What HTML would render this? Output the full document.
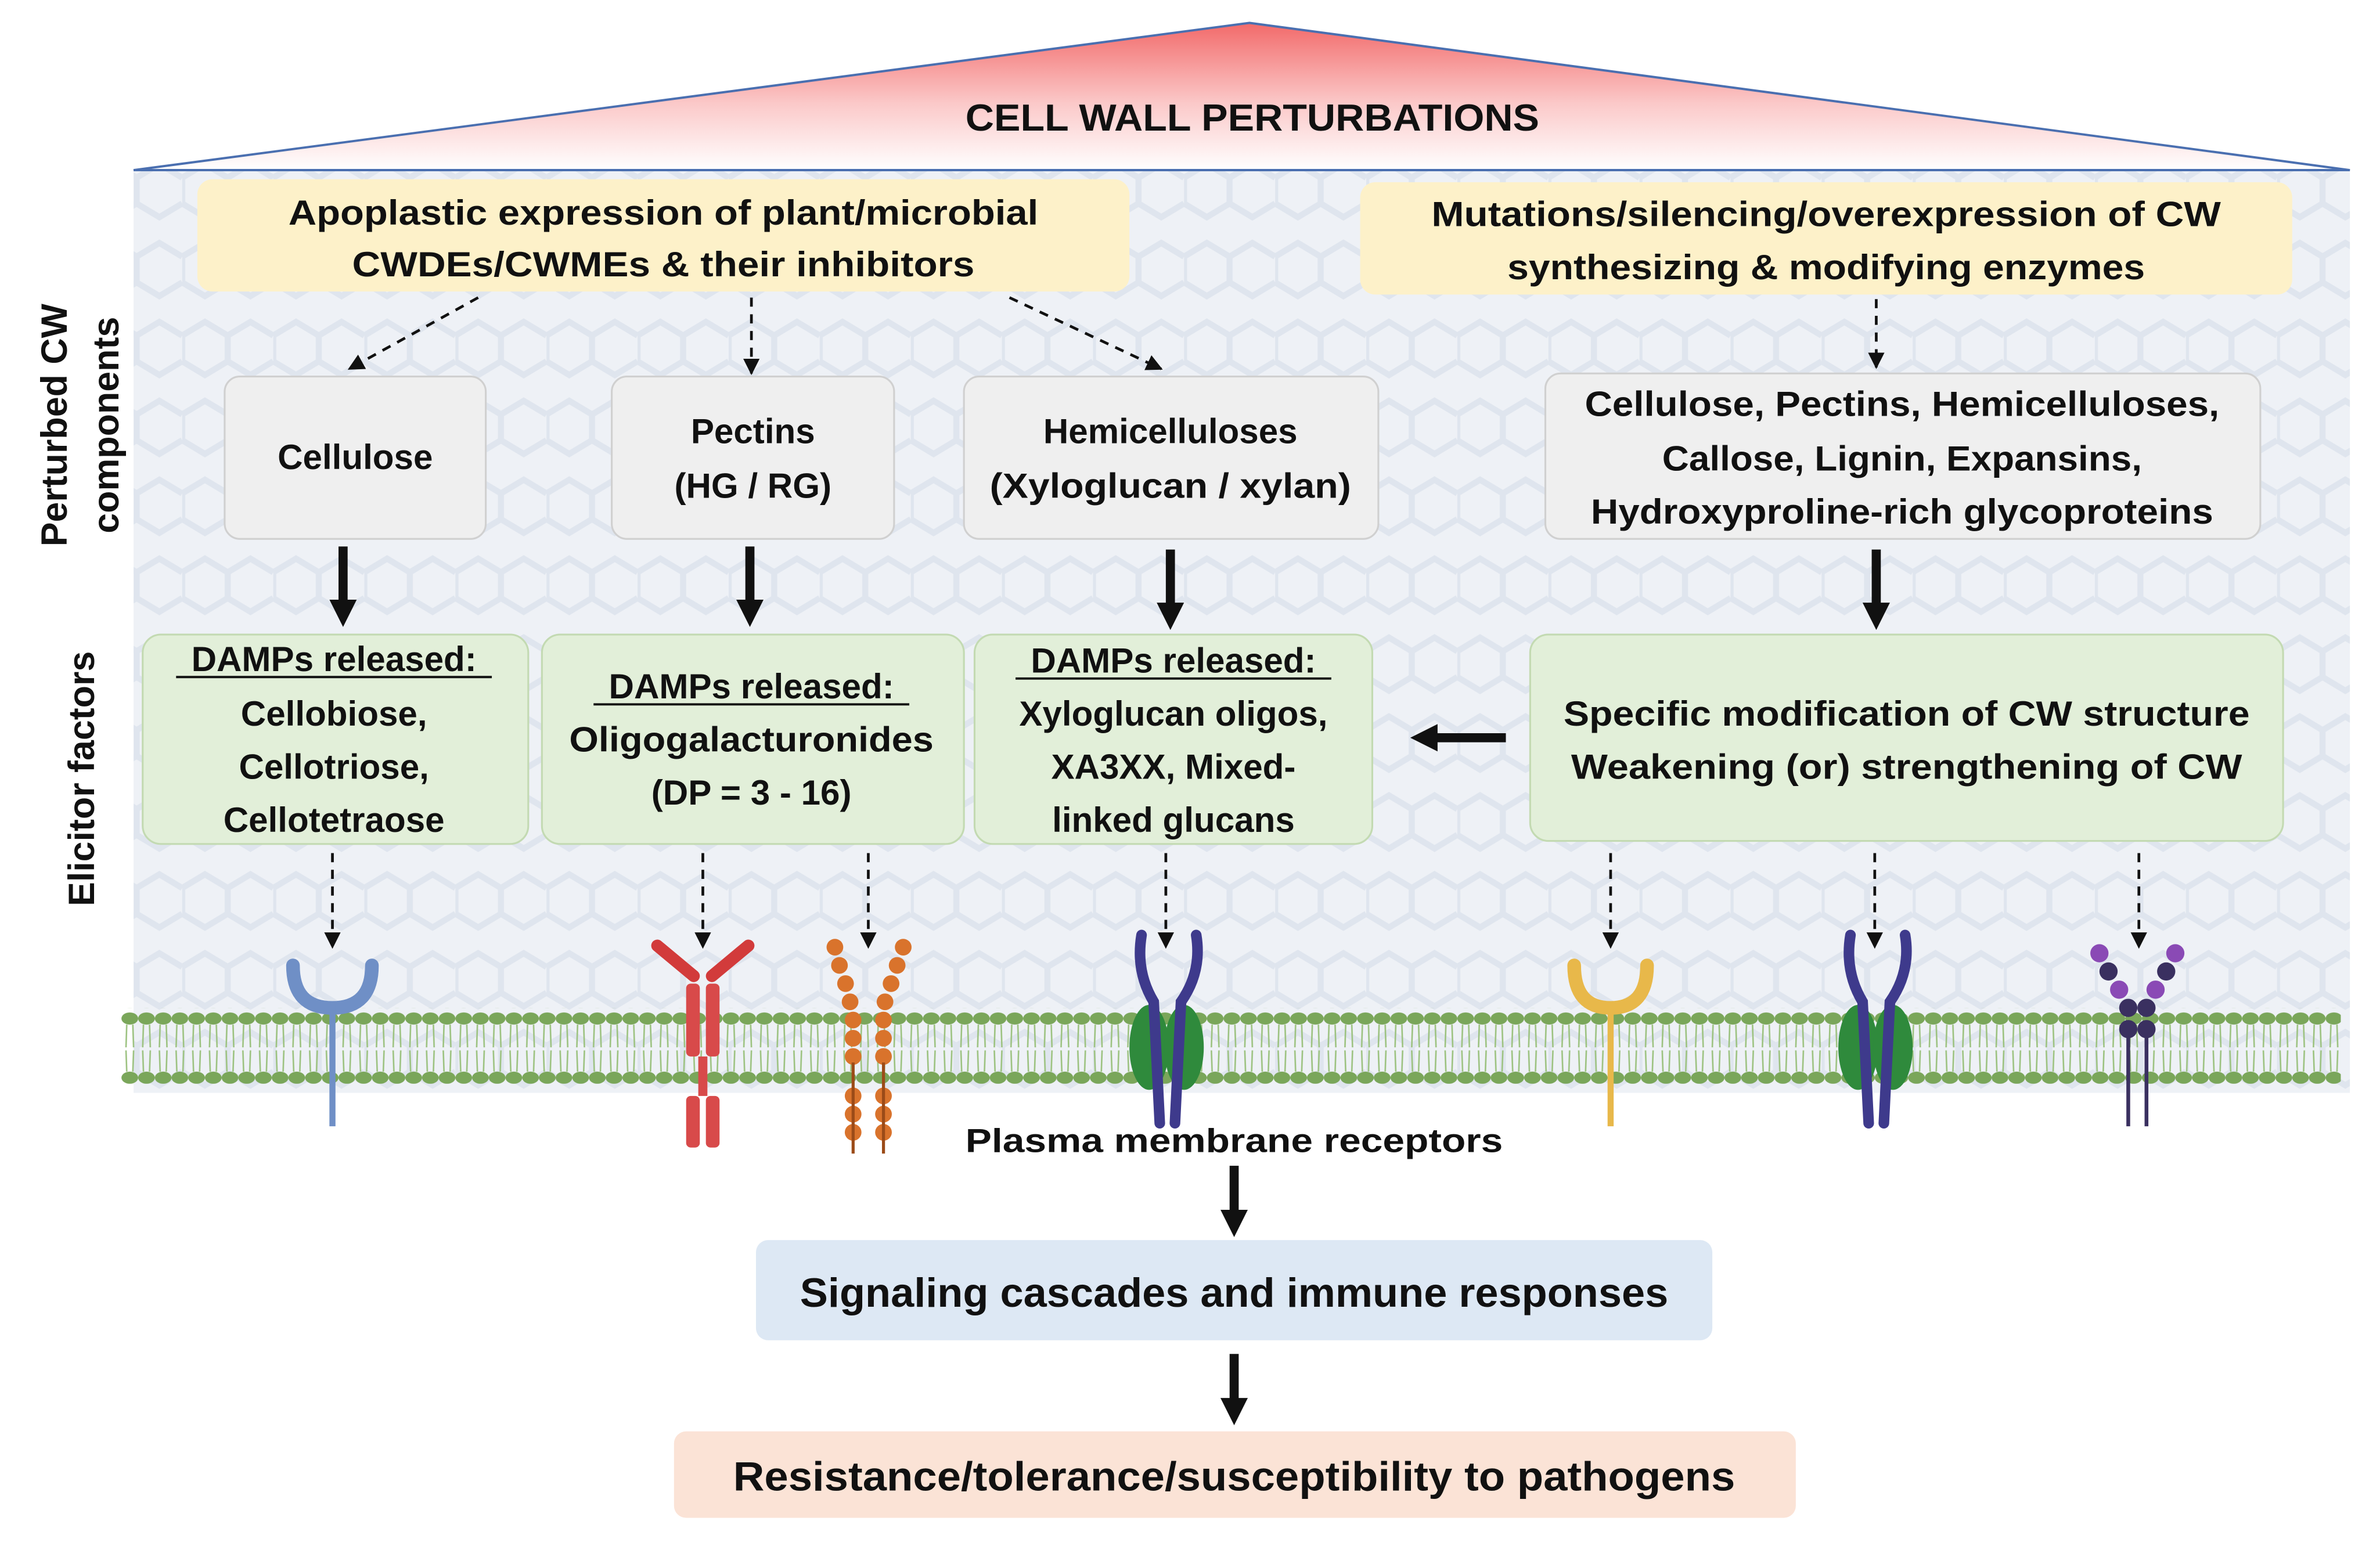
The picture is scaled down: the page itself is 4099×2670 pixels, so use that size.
<!DOCTYPE html>
<html><head><meta charset="utf-8"><style>
html,body{margin:0;padding:0;background:#fff}
svg{display:block}
text{font-family:"Liberation Sans",sans-serif;font-weight:bold;fill:#111}
</style></head><body>
<svg width="4099" height="2670" viewBox="0 0 1560 1016" xmlns="http://www.w3.org/2000/svg">
<defs>
<linearGradient id="tri" x1="0" y1="0" x2="0" y2="1">
<stop offset="0" stop-color="#f26a6a"/><stop offset="0.55" stop-color="#fbc9c9"/><stop offset="1" stop-color="#ffffff"/>
</linearGradient>
<pattern id="hex" width="60" height="52" patternUnits="userSpaceOnUse">
<rect width="60" height="52" fill="#eef1f6"/>
<path d="M0 13 L15 4 L30 13 L30 30 L15 39 L0 30Z M30 13 L45 4 L60 13 M30 30 L45 39 L60 30" fill="none" stroke="#dfe5ee" stroke-width="4"/>
</pattern>
<pattern id="mem" width="11" height="50" patternUnits="userSpaceOnUse" x="80" y="664">
<ellipse cx="5.5" cy="7" rx="5.5" ry="4" fill="#7aa65a"/>
<ellipse cx="5.5" cy="46" rx="5.5" ry="4" fill="#7aa65a"/>
<path d="M3.5 11 L3 26 M7.5 11 L8 26 M3.5 42 L3 28 M7.5 42 L8 28" stroke="#9cc280" stroke-width="1"/>
</pattern>
<marker id="ah" viewBox="0 0 10 10" refX="9" refY="5" markerWidth="6" markerHeight="6" orient="auto"><path d="M0 0L10 5L0 10z" fill="#111"/></marker>
<marker id="ahb" viewBox="0 0 10 10" refX="5" refY="5" markerWidth="3" markerHeight="3" orient="auto"><path d="M0 0L10 5L0 10z" fill="#111"/></marker>
</defs>
<g transform="scale(0.995)">
<rect x="88" y="112" width="1460" height="608" fill="url(#hex)"/>
<polygon points="823,15 88,112 1548,112" fill="url(#tri)" stroke="#4a6fb0" stroke-width="1.5"/>
<text x="825" y="86" font-size="25" text-anchor="middle" textLength="378" lengthAdjust="spacingAndGlyphs">CELL WALL PERTURBATIONS</text>

<rect x="130" y="118" width="614" height="74" rx="10" fill="#fdf1c9"/>
<text x="437" y="148" font-size="23" text-anchor="middle" textLength="494" lengthAdjust="spacingAndGlyphs">Apoplastic expression of plant/microbial</text>
<text x="437" y="182" font-size="23" text-anchor="middle" textLength="410" lengthAdjust="spacingAndGlyphs">CWDEs/CWMEs &amp; their inhibitors</text>
<rect x="896" y="120" width="614" height="74" rx="10" fill="#fdf1c9"/>
<text x="1203" y="149" font-size="23" text-anchor="middle" textLength="520" lengthAdjust="spacingAndGlyphs">Mutations/silencing/overexpression of CW</text>
<text x="1203" y="184" font-size="23" text-anchor="middle" textLength="420" lengthAdjust="spacingAndGlyphs">synthesizing &amp; modifying enzymes</text>

<g stroke="#111" stroke-width="1.8" stroke-dasharray="6,5" fill="none" marker-end="url(#ah)">
<line x1="315" y1="196" x2="230" y2="243"/><line x1="495" y1="196" x2="495" y2="246"/>
<line x1="665" y1="196" x2="765" y2="243"/><line x1="1236" y1="197" x2="1236" y2="242"/>
<line x1="219" y1="562" x2="219" y2="624"/><line x1="463" y1="562" x2="463" y2="624"/>
<line x1="572" y1="562" x2="572" y2="624"/><line x1="768" y1="562" x2="768" y2="624"/>
<line x1="1061" y1="562" x2="1061" y2="624"/><line x1="1235" y1="562" x2="1235" y2="624"/>
<line x1="1409" y1="562" x2="1409" y2="624"/>
</g>

<g fill="#efefef" stroke="#d0d0d0" stroke-width="1.2">
<rect x="148" y="248" width="172" height="107" rx="10"/>
<rect x="403" y="248" width="186" height="107" rx="10"/>
<rect x="635" y="248" width="273" height="107" rx="10"/>
<rect x="1018" y="246" width="471" height="109" rx="10"/>
</g>
<g font-size="23" text-anchor="middle">
<text x="234" y="309">Cellulose</text>
<text x="496" y="292">Pectins</text><text x="496" y="328">(HG / RG)</text>
<text x="771" y="292">Hemicelluloses</text><text x="771" y="328" textLength="238" lengthAdjust="spacingAndGlyphs">(Xyloglucan / xylan)</text>
<text x="1253" y="274" textLength="418" lengthAdjust="spacingAndGlyphs">Cellulose, Pectins, Hemicelluloses,</text>
<text x="1253" y="310" textLength="316" lengthAdjust="spacingAndGlyphs">Callose, Lignin, Expansins,</text>
<text x="1253" y="345" textLength="410" lengthAdjust="spacingAndGlyphs">Hydroxyproline-rich glycoproteins</text>
</g>

<g stroke="#111" stroke-width="6" marker-end="url(#ahb)">
<line x1="226" y1="360" x2="226" y2="404"/><line x1="494" y1="360" x2="494" y2="404"/>
<line x1="771" y1="362" x2="771" y2="406"/><line x1="1236" y1="362" x2="1236" y2="406"/>
<line x1="992" y1="486" x2="938" y2="486"/>
<line x1="813" y1="768" x2="813" y2="806"/><line x1="813" y1="892" x2="813" y2="930"/>
</g>

<g fill="#e2efd9" stroke="#c3dab2" stroke-width="1.2">
<rect x="94" y="418" width="254" height="138" rx="12"/>
<rect x="357" y="418" width="278" height="138" rx="12"/>
<rect x="642" y="418" width="262" height="138" rx="12"/>
<rect x="1008" y="418" width="496" height="136" rx="12"/>
</g>
<g font-size="23" text-anchor="middle">
<text x="220" y="442">DAMPs released:</text>
<line x1="116" y1="446" x2="324" y2="446" stroke="#111" stroke-width="1.5"/>
<text x="220" y="478">Cellobiose,</text><text x="220" y="513">Cellotriose,</text><text x="220" y="548">Cellotetraose</text>
<text x="495" y="460">DAMPs released:</text>
<line x1="391" y1="464" x2="599" y2="464" stroke="#111" stroke-width="1.5"/>
<text x="495" y="495" textLength="240" lengthAdjust="spacingAndGlyphs">Oligogalacturonides</text><text x="495" y="530">(DP = 3 - 16)</text>
<text x="773" y="443">DAMPs released:</text>
<line x1="669" y1="447" x2="877" y2="447" stroke="#111" stroke-width="1.5"/>
<text x="773" y="478">Xyloglucan oligos,</text><text x="773" y="513">XA3XX, Mixed-</text><text x="773" y="548">linked glucans</text>
<text x="1256" y="478" textLength="452" lengthAdjust="spacingAndGlyphs">Specific modification of CW structure</text>
<text x="1256" y="513" textLength="442" lengthAdjust="spacingAndGlyphs">Weakening (or) strengthening of CW</text>
</g>

<text transform="translate(44,280) rotate(-90)" font-size="24" text-anchor="middle">Perturbed CW</text>
<text transform="translate(78,280) rotate(-90)" font-size="24" text-anchor="middle">components</text>
<text transform="translate(62,513) rotate(-90)" font-size="24" text-anchor="middle">Elicitor factors</text>

<rect x="80" y="664" width="1462" height="50" fill="url(#mem)"/>

<g>
<path d="M193 636 Q193 664 219 664 Q245 664 245 636" fill="none" stroke="#6f8fc6" stroke-width="9" stroke-linecap="round"/>
<line x1="219" y1="662" x2="219" y2="742" stroke="#6f8fc6" stroke-width="4"/>
<g stroke="#d23b3b" stroke-width="8" stroke-linecap="round"><line x1="433" y1="623" x2="457" y2="643"/><line x1="493" y1="623" x2="469" y2="643"/></g>
<g fill="#d84a4a"><rect x="452" y="648" width="9" height="48" rx="3"/><rect x="465" y="648" width="9" height="48" rx="3"/><rect x="452" y="722" width="9" height="34" rx="3"/><rect x="465" y="722" width="9" height="34" rx="3"/></g>
<line x1="463" y1="696" x2="463" y2="722" stroke="#d84a4a" stroke-width="6"/>
<g fill="#d9732c">
<circle cx="550" cy="624" r="5.5"/><circle cx="553" cy="636" r="5.5"/><circle cx="557" cy="648" r="5.5"/><circle cx="560" cy="660" r="5.5"/><circle cx="562" cy="672" r="5.5"/><circle cx="562" cy="684" r="5.5"/><circle cx="562" cy="696" r="5.5"/>
<circle cx="595" cy="624" r="5.5"/><circle cx="591" cy="636" r="5.5"/><circle cx="587" cy="648" r="5.5"/><circle cx="583" cy="660" r="5.5"/><circle cx="582" cy="672" r="5.5"/><circle cx="582" cy="684" r="5.5"/><circle cx="582" cy="696" r="5.5"/>
<circle cx="562" cy="722" r="5.5"/><circle cx="562" cy="734" r="5.5"/><circle cx="562" cy="746" r="5.5"/><circle cx="582" cy="722" r="5.5"/><circle cx="582" cy="734" r="5.5"/><circle cx="582" cy="746" r="5.5"/>
</g>
<line x1="562" y1="700" x2="562" y2="760" stroke="#9b4b18" stroke-width="2"/><line x1="582" y1="700" x2="582" y2="760" stroke="#9b4b18" stroke-width="2"/>
<g id="lrr">
<ellipse cx="757" cy="690" rx="13" ry="28" fill="#2f8a3c"/><ellipse cx="780" cy="690" rx="13" ry="28" fill="#2f8a3c"/>
<path d="M752 616 Q748 640 760 660 L764 740" fill="none" stroke="#3e3a8c" stroke-width="7" stroke-linecap="round"/>
<path d="M788 616 Q792 640 778 660 L774 740" fill="none" stroke="#3e3a8c" stroke-width="7" stroke-linecap="round"/>
</g>
<use href="#lrr" transform="translate(467,0)"/>
<path d="M1037 636 Q1037 664 1061 664 Q1085 664 1085 636" fill="none" stroke="#e8b84a" stroke-width="9" stroke-linecap="round"/>
<line x1="1061" y1="662" x2="1061" y2="742" stroke="#e8b84a" stroke-width="4"/>
<g fill="#8a4ab5"><circle cx="1383" cy="628" r="6"/><circle cx="1433" cy="628" r="6"/><circle cx="1420" cy="652" r="6"/><circle cx="1396" cy="652" r="6"/></g>
<g fill="#3a3060"><circle cx="1389" cy="640" r="6"/><circle cx="1427" cy="640" r="6"/><circle cx="1402" cy="664" r="6"/><circle cx="1414" cy="664" r="6"/><circle cx="1402" cy="678" r="6"/><circle cx="1414" cy="678" r="6"/></g>
<line x1="1402" y1="680" x2="1402" y2="742" stroke="#3a3060" stroke-width="2.5"/><line x1="1414" y1="680" x2="1414" y2="742" stroke="#3a3060" stroke-width="2.5"/>
</g>

<text x="813" y="759" font-size="22" text-anchor="middle" textLength="354" lengthAdjust="spacingAndGlyphs">Plasma membrane receptors</text>
<rect x="498" y="817" width="630" height="66" rx="8" fill="#dde8f4"/>
<text x="813" y="861" font-size="27" text-anchor="middle" textLength="572" lengthAdjust="spacingAndGlyphs">Signaling cascades and immune responses</text>
<rect x="444" y="943" width="739" height="57" rx="8" fill="#fbe3d6"/>
<text x="813" y="982" font-size="27" text-anchor="middle" textLength="660" lengthAdjust="spacingAndGlyphs">Resistance/tolerance/susceptibility to pathogens</text>
</g>
</svg>
</body></html>
